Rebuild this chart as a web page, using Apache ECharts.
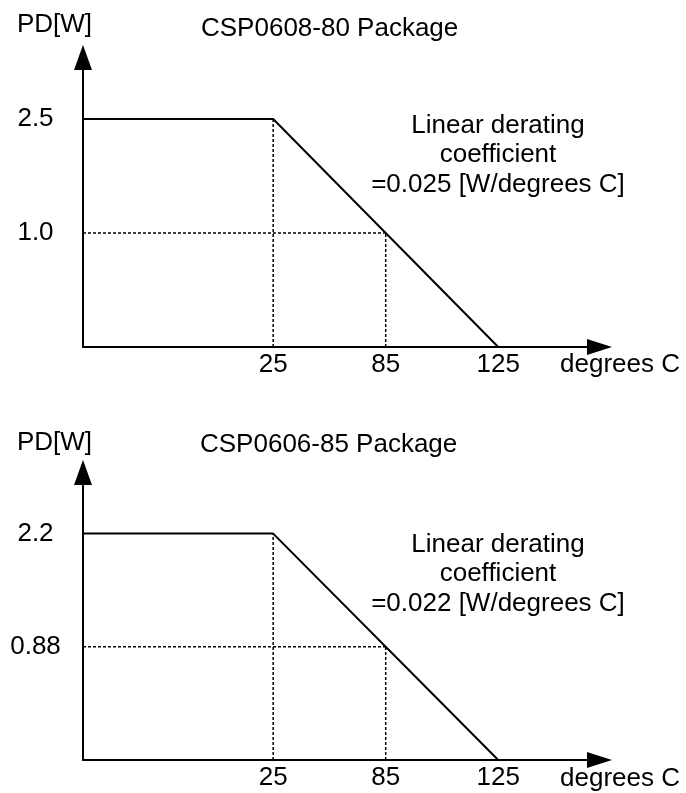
<!DOCTYPE html>
<html><head><meta charset="utf-8">
<script src="https://cdn.jsdelivr.net/npm/echarts@6/dist/echarts.min.js"></script>
<style>html,body{margin:0;padding:0;background:#fff}#c{width:686px;height:793px}</style>
</head><body><div id="c"></div>
<script>
// ---- data ----
const temps = [25, 85, 125];                 // degrees C (x tick values)
const tempLabels = ['25', '85', '125'];      // x tick labels
const pdTop = [2.5, 1.0, 0];                 // PD [W] at temps, CSP0608-80
const pdBottom = [2.2, 0.88, 0];             // PD [W] at temps, CSP0606-85
const yLabelsTop = ['1.0', '2.5'];
const yLabelsBottom = ['0.88', '2.2'];
const titles = ['CSP0608-80 Package', 'CSP0606-85 Package'];
const coefficients = ['0.025', '0.022'];

// ---- schematic axes: ticks are evenly spaced (as in the original drawing) ----
const X_MIN = -1.69, X_MAX = 2.9, Y_MAX = 2.54;
const FONT = "'Liberation Sans', Arial, Helvetica, sans-serif";
const xs = t => temps.indexOf(t);

function buildChart(idx, pd, yLabels) {
  const levels = [0, pd[1], pd[0]];
  const ys = v => levels.indexOf(v);
  const main = [[X_MIN, ys(pd[0])]].concat(temps.map((t, i) => [xs(t), ys(pd[i])]));
  const guide = {type: 'line', xAxisIndex: idx, yAxisIndex: idx, symbol: 'none', silent: true, z: 2,
    lineStyle: {color: '#000', width: 1.5, type: [3, 2]}};
  return [
    Object.assign({}, guide, {data: [[xs(temps[0]), 0], [xs(temps[0]), ys(pd[0])]]}),
    Object.assign({}, guide, {data: [[xs(temps[1]), 0], [xs(temps[1]), ys(pd[1])]]}),
    Object.assign({}, guide, {data: [[X_MIN, ys(pd[1])], [xs(temps[1]), ys(pd[1])]]}),
    {type: 'line', xAxisIndex: idx, yAxisIndex: idx, symbol: 'none', silent: true, z: 3,
      lineStyle: {color: '#000', width: 2}, data: main}
  ];
}

function xAxis(idx) {
  return {type: 'value', gridIndex: idx, min: X_MIN, max: X_MAX,
    axisLine: {onZero: false, lineStyle: {color: '#000', width: 2}, symbol: ['none', 'triangle'], symbolSize: [16, 25]},
    axisTick: {show: false}, splitLine: {show: false},
    axisLabel: {customValues: [0, 1, 2], formatter: v => tempLabels[Math.round(v)] || '',
      color: '#000', fontSize: 26, fontFamily: FONT, margin: 18, verticalAlign: 'middle',
      showMinLabel: true, showMaxLabel: true}};
}
function yAxis(idx, labels) {
  return {type: 'value', gridIndex: idx, min: 0, max: Y_MAX,
    axisLine: {show: true, onZero: false, lineStyle: {color: '#000', width: 2}, symbol: ['none', 'triangle'], symbolSize: [18, 25]},
    axisTick: {show: false}, splitLine: {show: false},
    axisLabel: {customValues: [1, 2], formatter: v => labels[Math.round(v) - 1] || '',
      color: '#000', fontSize: 26, fontFamily: FONT, margin: 47.5, align: 'center'}};
}

function txt(text, x, y, align, lh) {
  return {type: 'text', x: x, y: y, silent: true,
    style: {text: text, fill: '#000', font: '26px ' + FONT, align: align, verticalAlign: 'middle', lineHeight: lh || 26}};
}

const chart = echarts.init(document.getElementById('c'), null, {renderer: 'canvas'});
chart.setOption({
  animation: false,
  backgroundColor: '#fff',
  grid: [
    {left: 83, right: 86.5, top: 57.5, bottom: 446, outerBoundsMode: 'none'},
    {left: 83, right: 86.5, top: 472.5, bottom: 33, outerBoundsMode: 'none'}
  ],
  xAxis: [xAxis(0), xAxis(1)],
  yAxis: [yAxis(0, yLabelsTop), yAxis(1, yLabelsBottom)],
  series: buildChart(0, pdTop, yLabelsTop).concat(buildChart(1, pdBottom, yLabelsBottom)),
  graphic: [
    txt('PD[W]', 54.5, 25, 'center'),
    txt(titles[0], 201, 29, 'left'),
    txt('degrees C', 560, 365, 'left'),
    txt('Linear derating\ncoefficient\n=' + coefficients[0] + ' [W/degrees C]', 498, 155, 'center', 29.5),
    txt('PD[W]', 54.5, 443, 'center'),
    txt(titles[1], 200, 445, 'left'),
    txt('degrees C', 560, 779, 'left'),
    txt('Linear derating\ncoefficient\n=' + coefficients[1] + ' [W/degrees C]', 498, 574, 'center', 29.5)
  ]
});
</script></body></html>
